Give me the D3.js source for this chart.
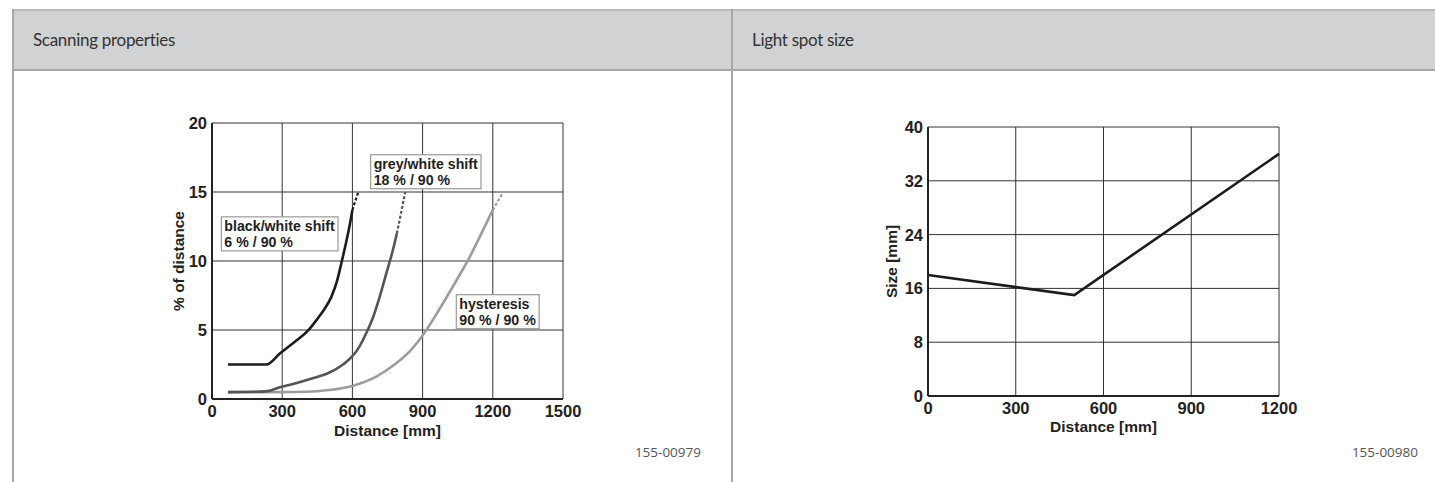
<!DOCTYPE html>
<html>
<head>
<meta charset="utf-8">
<script src="https://cdn.jsdelivr.net/npm/d3@7"></script>
<style>
  body { margin: 0; background: #fff; }
  svg { display: block; }
  .tick-label { font-family: "Liberation Sans", Arial, sans-serif; font-weight: bold; font-size: 16.5px; fill: #222; }
  .axis-title { font-family: "Liberation Sans", Arial, sans-serif; font-weight: bold; font-size: 15.5px; fill: #222; }
  .note { font-family: "Liberation Sans", Arial, sans-serif; font-weight: bold; font-size: 14.2px; fill: #222; }
  .header { font-family: "Lato", sans-serif; font-size: 17px; letter-spacing: -0.3px; fill: #333; }
  .code { font-family: "Open Sans", sans-serif; font-size: 13.5px; fill: #555; }
</style>
</head>
<body>
<div id="chart"></div>
<script>
// Scanning properties: distance [mm] vs % of distance
var bwDist   = [68, 232, 290, 350, 410, 450, 480, 510, 535, 555, 570, 585, 600];
var bwPct    = [2.5, 2.5, 3.3, 4.1, 4.95, 5.8, 6.5, 7.4, 8.6, 10.0, 11.1, 12.3, 13.7];
var bwTail   = [[600, 13.7], [625, 15]];

var gwDist   = [68, 230, 290, 350, 430, 500, 560, 600, 630, 660, 690, 720, 745, 770, 790];
var gwPct    = [0.5, 0.55, 0.85, 1.1, 1.5, 1.9, 2.5, 3.1, 3.8, 4.8, 6.0, 7.6, 9.1, 10.6, 12.0];
var gwTail   = [[790, 12.0], [826, 15]];

var hyDist   = [68, 300, 400, 500, 600, 700, 780, 850, 900, 950, 1000, 1050, 1100, 1150, 1200];
var hyPct    = [0.5, 0.5, 0.52, 0.65, 0.95, 1.6, 2.5, 3.55, 4.6, 5.9, 7.3, 8.75, 10.25, 11.95, 13.7];
var hyTail   = [[1200, 13.7], [1245, 15]];

var scanXTicks = [0, 300, 600, 900, 1200, 1500];
var scanYTicks = [0, 5, 10, 15, 20];

// Light spot size: distance [mm] vs size [mm]
var spotDist = [0, 500, 1200];
var spotSize = [18, 15, 36];
var spotXTicks = [0, 300, 600, 900, 1200];
var spotYTicks = [0, 8, 16, 24, 32, 40];

var W = 1435, H = 482;
var svg = d3.select("#chart").append("svg")
    .attr("width", W)
    .attr("height", H);

// table frame
var divX = 732;
svg.append("rect").attr("x", 13).attr("y", 10).attr("width", W - 13).attr("height", 60)
    .attr("fill", "#d1d2d4");
svg.append("line").attr("x1", 13).attr("x2", W).attr("y1", 10).attr("y2", 10)
    .attr("stroke", "#b9babc").attr("stroke-width", 2);
svg.append("line").attr("x1", 13).attr("x2", W).attr("y1", 70).attr("y2", 70)
    .attr("stroke", "#a6a7a9").attr("stroke-width", 2);
svg.append("line").attr("x1", 13).attr("x2", 13).attr("y1", 9).attr("y2", H)
    .attr("stroke", "#a6a7a9").attr("stroke-width", 2);
svg.append("line").attr("x1", divX).attr("x2", divX).attr("y1", 9).attr("y2", H)
    .attr("stroke", "#a6a7a9").attr("stroke-width", 2);

svg.append("text").attr("class", "header").attr("x", 33).attr("y", 46).text("Scanning properties");
svg.append("text").attr("class", "header").attr("x", divX + 20).attr("y", 46).text("Light spot size");

svg.append("text").attr("class", "code").attr("x", 701).attr("y", 457)
    .attr("text-anchor", "end").text("155-00979");
svg.append("text").attr("class", "code").attr("x", 1418).attr("y", 457)
    .attr("text-anchor", "end").text("155-00980");

/*
 * Shared plot frame: grid, ticks, axis titles
 */
function drawFrame(opt) {
    var g = svg.append("g");
    var x = opt.x, y = opt.y;

    g.selectAll(".vgrid").data(opt.xTicks.slice(1)).enter().append("line")
        .attr("x1", function (d) { return x(d); })
        .attr("x2", function (d) { return x(d); })
        .attr("y1", y.range()[1]).attr("y2", y.range()[0])
        .attr("stroke", "#333").attr("stroke-width", 1);
    g.selectAll(".hgrid").data(opt.yTicks.slice(1)).enter().append("line")
        .attr("x1", x.range()[0]).attr("x2", x.range()[1])
        .attr("y1", function (d) { return y(d); })
        .attr("y2", function (d) { return y(d); })
        .attr("stroke", "#333").attr("stroke-width", 1);

    // left and bottom axis lines
    g.append("line").attr("x1", x.range()[0]).attr("x2", x.range()[0])
        .attr("y1", y.range()[1]).attr("y2", y.range()[0])
        .attr("stroke", "#222").attr("stroke-width", 2);
    g.append("line").attr("x1", x.range()[0]).attr("x2", x.range()[1])
        .attr("y1", y.range()[0]).attr("y2", y.range()[0])
        .attr("stroke", "#222").attr("stroke-width", 2);

    g.selectAll(".xl").data(opt.xTicks).enter().append("text")
        .attr("class", "tick-label")
        .attr("x", function (d) { return x(d); })
        .attr("y", y.range()[0] + opt.xLabelDy)
        .attr("text-anchor", "middle")
        .text(function (d) { return d; });
    g.selectAll(".yl").data(opt.yTicks).enter().append("text")
        .attr("class", "tick-label")
        .attr("x", x.range()[0] - 5)
        .attr("y", function (d) { return y(d) + 6; })
        .attr("text-anchor", "end")
        .text(function (d) { return d; });

    g.append("text").attr("class", "axis-title")
        .attr("x", (x.range()[0] + x.range()[1]) / 2)
        .attr("y", opt.xTitleY)
        .attr("text-anchor", "middle")
        .text(opt.xTitle);
    g.append("text").attr("class", "axis-title")
        .attr("transform", "translate(" + opt.yTitleX + "," + (y.range()[0] + y.range()[1]) / 2 + ") rotate(-90)")
        .attr("text-anchor", "middle")
        .text(opt.yTitle);
    return g;
}

function zip(a, b) {
    return a.map(function (d, i) { return [d, b[i]]; });
}

// ---- Scanning properties ----
var sx = d3.scaleLinear().domain([0, 1500]).range([212, 563]);
var sy = d3.scaleLinear().domain([0, 20]).range([399, 123]);

var gs = drawFrame({
    x: sx, y: sy, xTicks: scanXTicks, yTicks: scanYTicks,
    xTitle: "Distance [mm]", yTitle: "% of distance",
    xLabelDy: 18, xTitleY: 436, yTitleX: 184
});

var curve = d3.line()
    .x(function (d) { return sx(d[0]); })
    .y(function (d) { return sy(d[1]); })
    .curve(d3.curveMonotoneX);

var scanSeries = [
    { pts: zip(hyDist, hyPct), tail: hyTail, color: "#9d9d9d" },
    { pts: zip(gwDist, gwPct), tail: gwTail, color: "#555555" },
    { pts: zip(bwDist, bwPct), tail: bwTail, color: "#1c1c1c" }
];

scanSeries.forEach(function (s) {
    gs.append("path").attr("d", curve(s.pts))
        .attr("fill", "none").attr("stroke", s.color).attr("stroke-width", 2.6);
    gs.append("path").attr("d", curve(s.tail))
        .attr("fill", "none").attr("stroke", s.color).attr("stroke-width", 2.2)
        .attr("stroke-dasharray", "3,2");
});

// boxed curve labels
var notes = [
    { lines: ["black/white shift", "6 % / 90 %"], at: [40, 13.2] },
    { lines: ["grey/white shift", "18 % / 90 %"], at: [678, 17.7] },
    { lines: ["hysteresis", "90 % / 90 %"], at: [1044, 7.56] }
];

notes.forEach(function (n) {
    var ng = gs.append("g").attr("transform", "translate(" + sx(n.at[0]) + "," + sy(n.at[1]) + ")");
    var box = ng.append("rect").attr("fill", "#fff").attr("stroke", "#999").attr("stroke-width", 1.2);
    var t = ng.append("text").attr("class", "note");
    n.lines.forEach(function (l, i) {
        t.append("tspan").attr("x", 3).attr("y", 14 + i * 16.5).text(l);
    });
    var bb = t.node().getBBox();
    box.attr("x", 0).attr("y", 0).attr("width", bb.width + 6).attr("height", 34);
});

// ---- Light spot size ----
var lx = d3.scaleLinear().domain([0, 1200]).range([928, 1279]);
var ly = d3.scaleLinear().domain([0, 40]).range([396, 127]);

var gl = drawFrame({
    x: lx, y: ly, xTicks: spotXTicks, yTicks: spotYTicks,
    xTitle: "Distance [mm]", yTitle: "Size [mm]",
    xLabelDy: 17.5, xTitleY: 432, yTitleX: 897
});

gl.append("path")
    .attr("d", d3.line()
        .x(function (d) { return lx(d[0]); })
        .y(function (d) { return ly(d[1]); })(zip(spotDist, spotSize)))
    .attr("fill", "none").attr("stroke", "#1c1c1c").attr("stroke-width", 2.6);
</script>
</body>
</html>
